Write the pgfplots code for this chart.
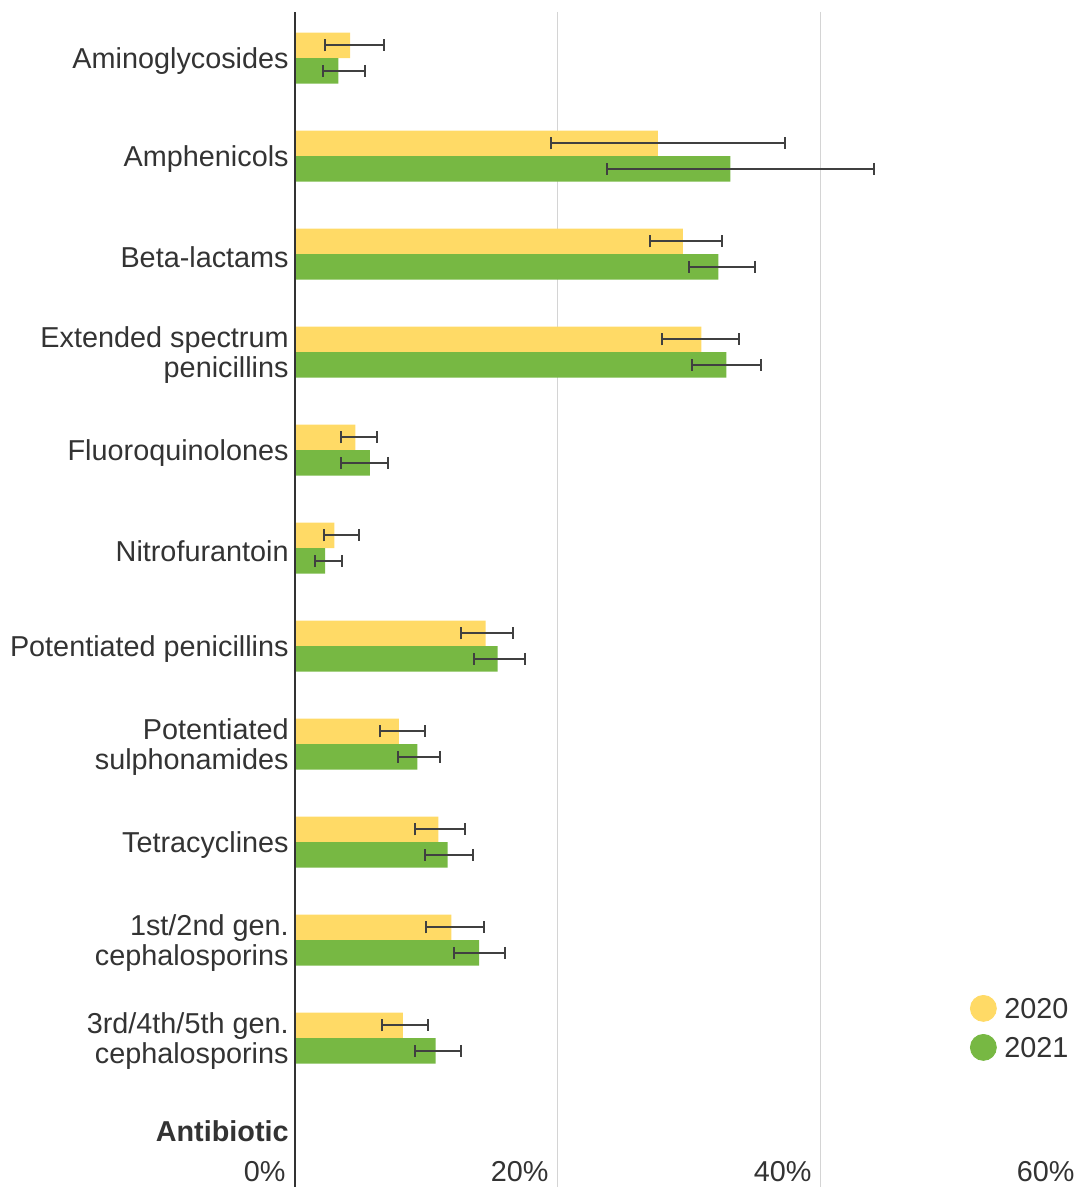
\documentclass[border=0pt]{standalone}
\usepackage{pgfplots}
\pgfplotsset{compat=1.18}
\usepackage{fontspec}
\setmainfont{Liberation Sans}
\definecolor{cy}{HTML}{FFDA66}
\definecolor{cg}{HTML}{77B843}
\definecolor{tx}{HTML}{333333}
\definecolor{eb}{HTML}{404040}
\definecolor{gr}{HTML}{D4D4D4}
\begin{document}
\begin{tikzpicture}
\begin{axis}[
  name=ax,
  scale only axis,
  width=394.5pt, height=587.5pt,
  xmin=0, xmax=60,
  ymin=-0.47, ymax=11.52,
  y dir=reverse,
  axis line style={draw=none},
  xtick={0,20,40,60},
  xticklabels={0\%,20\%,40\%,60\%},
  xmajorgrids, grid style={gr, line width=0.5pt},
  major tick length=0pt,
  xticklabel style={anchor=south east, inner sep=0pt, xshift=-4.5pt, yshift=2.5pt, font=\fontsize{14.4}{15}\selectfont, text=tx},
  /pgf/number format/assume math mode=true,
  ytick={0,1,2,3,4,5,6,7,8,9,10,10.92},
  yticklabels={Aminoglycosides, Amphenicols, Beta-lactams, {Extended spectrum\\penicillins}, Fluoroquinolones, Nitrofurantoin, Potentiated penicillins, {Potentiated\\sulphonamides}, Tetracyclines, {1st/2nd gen.\\cephalosporins}, {3rd/4th/5th gen.\\cephalosporins}, \textbf{Antibiotic}},
  yticklabel style={align=right, anchor=east, inner sep=0pt, xshift=-3pt, yshift=-1.5pt, font=\fontsize{14.4}{15}\selectfont, text=tx},
  legend style={at={(0.8555,0.1634)}, anchor=north west, draw=none, fill=none, inner sep=0pt, row sep=6.5pt,
    nodes={inner sep=0pt, text height=10pt, text depth=0pt},
    font=\fontsize{14.4}{15}\selectfont, text=tx, legend cell align=left},
  clip=false,
]
\addlegendimage{only marks, mark=*, mark size=6.5pt, color=cy, mark options={draw=none, fill=cy}}
\addlegendentry{\hspace*{4pt}2020}
\addlegendimage{only marks, mark=*, mark size=6.5pt, color=cg, mark options={draw=none, fill=cg}}
\addlegendentry{\hspace*{4pt}2021}
% 2020 bars sit 0.13 category above the category centre, 2021 bars 0.13 below
\addplot[xbar, bar width=12.75pt, fill=cy, draw=none, bar shift=0pt, forget plot,
  error bars/.cd, x dir=both, x explicit,
  error bar style={line width=1pt, draw=eb},
  error mark options={rotate=90, mark size=3pt, line width=1pt, draw=eb}]
coordinates {
(4.2,-0.13) -= (1.9,0) += (2.6,0)
(27.6,0.87) -= (8.1,0) += (9.7,0)
(29.5,1.87) -= (2.5,0) += (3.0,0)
(30.9,2.87) -= (3.0,0) += (2.9,0)
(4.6,3.87) -= (1.1,0) += (1.6,0)
(3.0,4.87) -= (0.8,0) += (1.9,0)
(14.5,5.87) -= (1.9,0) += (2.1,0)
(7.9,6.87) -= (1.4,0) += (2.0,0)
(10.9,7.87) -= (1.8,0) += (2.0,0)
(11.9,8.87) -= (1.9,0) += (2.5,0)
(8.2,9.87) -= (1.6,0) += (1.9,0)
};
\addplot[xbar, bar width=12.75pt, fill=cg, draw=none, bar shift=0pt, forget plot,
  error bars/.cd, x dir=both, x explicit,
  error bar style={line width=1pt, draw=eb},
  error mark options={rotate=90, mark size=3pt, line width=1pt, draw=eb}]
coordinates {
(3.3,0.13) -= (1.2,0) += (2.0,0)
(33.1,1.13) -= (9.4,0) += (10.9,0)
(32.2,2.13) -= (2.2,0) += (2.8,0)
(32.8,3.13) -= (2.6,0) += (2.6,0)
(5.7,4.13) -= (2.2,0) += (1.4,0)
(2.3,5.13) -= (0.8,0) += (1.3,0)
(15.4,6.13) -= (1.8,0) += (2.1,0)
(9.3,7.13) -= (1.5,0) += (1.7,0)
(11.6,8.13) -= (1.7,0) += (1.9,0)
(14.0,9.13) -= (1.9,0) += (2.0,0)
(10.7,10.13) -= (1.6,0) += (1.9,0)
};
\draw[tx, line width=0.75pt] (rel axis cs:0,0) -- (rel axis cs:0,1);
\end{axis}
\pgfresetboundingbox
\path ([xshift=-147.5pt]ax.south west) rectangle ([xshift=-3pt, yshift=6pt]ax.north east);
\end{tikzpicture}
\end{document}
